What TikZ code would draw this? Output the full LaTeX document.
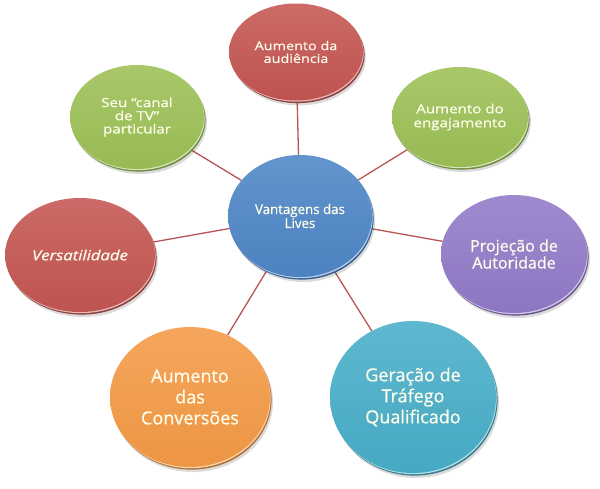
\documentclass[tikz,border=0pt]{standalone}
\usepackage{fontspec}
\setmainfont{Open Sans}
\newfontfamily\lvfont[FakeBold=0.6]{Open Sans}
\newfontfamily\widefont[FakeStretch=1.2,FakeBold=0.6]{Open Sans}
\usetikzlibrary{shapes.geometric,shadows,backgrounds}
\definecolor{lvred}{RGB}{196,86,82}
\definecolor{lvgreen}{RGB}{156,192,86}
\definecolor{lvblue}{RGB}{78,134,198}
\definecolor{lvpurple}{RGB}{146,122,200}
\definecolor{lvorange}{RGB}{244,154,70}
\definecolor{lvcyan}{RGB}{72,174,200}
\definecolor{lvlink}{RGB}{184,84,84}
\begin{document}
\begin{tikzpicture}[x=1pt, y=-1pt, line cap=round, line join=round,
    bubble/.style={ellipse, inner sep=0pt, outer sep=0pt, align=center,
      text=white!93!yellow, top color=#1!88!white, bottom color=#1!97!black,
      general shadow={fill=black, opacity=.14, shadow xshift=3pt, shadow yshift=-5pt},
      general shadow={fill=#1!72!black, shadow xshift=1.6pt, shadow yshift=-2.6pt},
      general shadow={fill=#1!40!white, shadow xshift=0.7pt, shadow yshift=-1.2pt}},
    link/.style={draw=lvlink, line width=1.3pt}]
  \useasboundingbox (0,0) rectangle (600,488);
  \node[bubble=lvblue, minimum width=144, minimum height=122,
    font=\lvfont\fontsize{13.3}{14}\selectfont] (vant) at (300,216) {Vantagens das\\Lives};
  \node[bubble=lvred, minimum width=134, minimum height=97,
    font=\widefont\fontsize{12}{12.8}\selectfont] (aud) at (296,52) {Aumento da\\audiência};
  \node[bubble=lvgreen, minimum width=134, minimum height=104,
    font=\widefont\fontsize{12.6}{13.2}\selectfont] (canal) at (137,117) {Seu “canal\\de TV”\\particular};
  \node[bubble=lvgreen, minimum width=136, minimum height=100,
    font=\widefont\fontsize{12.6}{14}\selectfont] (eng) at (460,117) {Aumento do\\engajamento};
  \node[bubble=lvpurple, minimum width=146, minimum height=118,
    font=\lvfont\fontsize{16}{17}\selectfont] (proj) at (514,254) {Projeção de\\Autoridade};
  \node[bubble=lvcyan, minimum width=166, minimum height=152,
    font=\lvfont\fontsize{18}{21}\selectfont] (traf) at (413,397) {Geração de\\Tráfego\\Qualificado};
  \node[bubble=lvorange, minimum width=160, minimum height=140,
    font=\lvfont\fontsize{18}{21}\selectfont] (conv) at (190,397) {Aumento\\das\\Conversões};
  \node[bubble=lvred, minimum width=150, minimum height=114,
    font=\widefont\itshape\fontsize{13.9}{15}\selectfont] (vers) at (80,255) {Versatilidade};
  \begin{scope}[on background layer]
    \draw[link] (vant) -- (aud);
    \draw[link] (vant) -- (canal);
    \draw[link] (vant) -- (eng);
    \draw[link] (vant) -- (proj);
    \draw[link] (vant) -- (traf);
    \draw[link] (vant) -- (conv);
    \draw[link] (vant) -- (vers);
  \end{scope}
\end{tikzpicture}
\end{document}
